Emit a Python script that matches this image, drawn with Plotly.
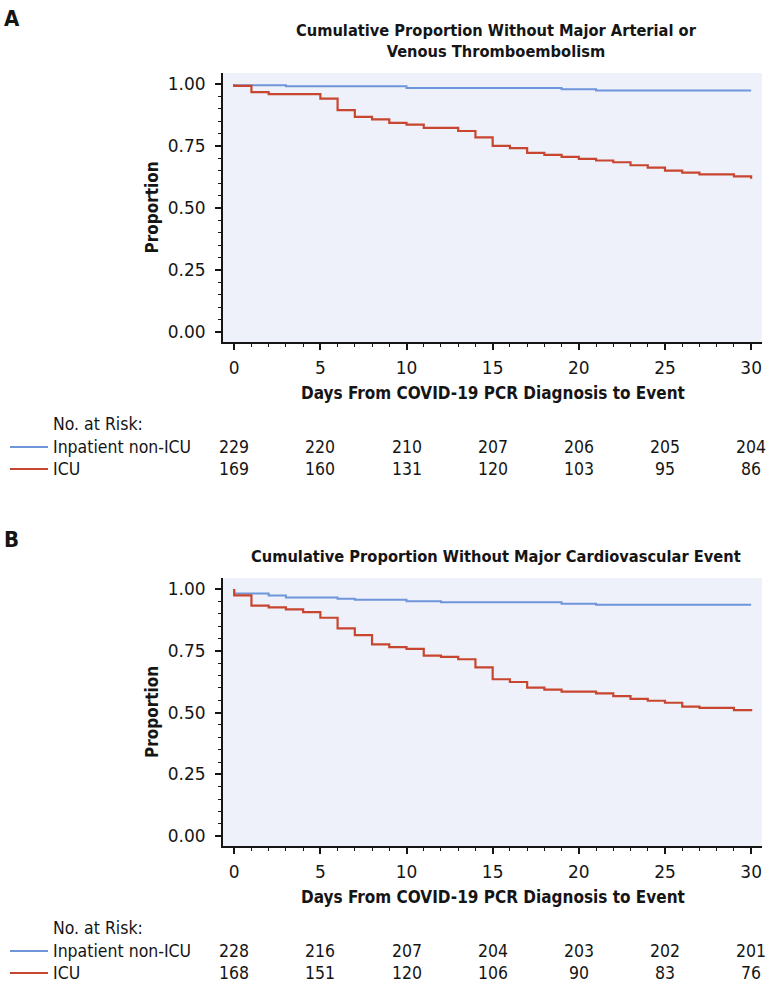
import plotly.graph_objects as go

W, H = 766, 986

# ---------------- data ----------------
tick_days = [0, 5, 10, 15, 20, 25, 30]

# Panel A: major arterial or venous thromboembolism
a_nonicu_days = [0, 0, 3, 10, 19, 21, 30]
a_nonicu_surv = [1.0, 0.996, 0.992, 0.985, 0.979, 0.974, 0.974]
a_icu_days = [0, 0, 1, 2, 5, 6, 7, 8, 9, 10, 11, 13, 14, 15, 16, 17, 18, 19, 20,
              21, 22, 23, 24, 25, 26, 27, 29, 30]
a_icu_surv = [1.0, 0.993, 0.968, 0.960, 0.942, 0.895, 0.868, 0.858, 0.844, 0.837,
              0.824, 0.811, 0.785, 0.751, 0.742, 0.723, 0.715, 0.707, 0.699, 0.692,
              0.685, 0.673, 0.663, 0.651, 0.643, 0.636, 0.628, 0.618]
a_risk_nonicu = [229, 220, 210, 207, 206, 205, 204]
a_risk_icu = [169, 160, 131, 120, 103, 95, 86]

# Panel B: major cardiovascular event
b_nonicu_days = [0, 0, 2, 3, 6, 7, 10, 12, 19, 21, 30]
b_nonicu_surv = [1.0, 0.982, 0.974, 0.966, 0.961, 0.957, 0.951, 0.947, 0.941, 0.937, 0.937]
b_icu_days = [0, 0, 1, 2, 3, 4, 5, 6, 7, 8, 9, 10, 11, 12, 13, 14, 15, 16, 17, 18,
              19, 21, 22, 23, 24, 25, 26, 27, 29, 30]
b_icu_surv = [1.0, 0.975, 0.933, 0.926, 0.918, 0.907, 0.884, 0.841, 0.814, 0.776,
              0.765, 0.758, 0.731, 0.726, 0.716, 0.683, 0.635, 0.624, 0.601, 0.593,
              0.585, 0.578, 0.567, 0.556, 0.548, 0.540, 0.524, 0.519, 0.510, 0.506]
b_risk_nonicu = [228, 216, 207, 204, 203, 202, 201]
b_risk_icu = [168, 151, 120, 106, 90, 83, 76]

group_names = ["Inpatient non-ICU", "ICU"]
titles = ["Cumulative Proportion Without Major Arterial or<br>Venous Thromboembolism",
          "Cumulative Proportion Without Major Cardiovascular Event"]
panel_letters = ["A", "B"]
x_title = "Days From COVID-19 PCR Diagnosis to Event"
y_title = "Proportion"

# ---------------- style ----------------
BLUE = "#6f95da"
RED = "#c8462f"
BG = "#eef1fa"
INK = "#151515"
NARROW = "Liberation Sans Narrow, DejaVu Sans Condensed, Arial Narrow, sans-serif"
REG = "DejaVu Sans, Noto Sans, sans-serif"


def px(x):
    return x / W


def py(y):
    return 1 - y / H


fig = go.Figure()

panels = [
    dict(xa="x", ya="y", top=73, bottom=342,
         nonicu=(a_nonicu_days, a_nonicu_surv), icu=(a_icu_days, a_icu_surv),
         risk=(a_risk_nonicu, a_risk_icu), title_y=30, letter_y=19),
    dict(xa="x2", ya="y2", top=578, bottom=846,
         nonicu=(b_nonicu_days, b_nonicu_surv), icu=(b_icu_days, b_icu_surv),
         risk=(b_risk_nonicu, b_risk_icu), title_y=556, letter_y=539),
]

left, right = 223, 762
annotations = []
shapes = []
for i, p in enumerate(panels):
    fig.add_trace(go.Scatter(x=p["nonicu"][0], y=p["nonicu"][1], mode="lines",
                             line=dict(shape="hv", color=BLUE, width=2),
                             xaxis=p["xa"], yaxis=p["ya"], showlegend=False,
                             name=group_names[0]))
    fig.add_trace(go.Scatter(x=p["icu"][0], y=p["icu"][1], mode="lines",
                             line=dict(shape="hv", color=RED, width=2.2),
                             xaxis=p["xa"], yaxis=p["ya"], showlegend=False,
                             name=group_names[1]))
    xk = "xaxis" if i == 0 else "xaxis2"
    yk = "yaxis" if i == 0 else "yaxis2"
    fig.update_layout({
        xk: dict(domain=[px(left), px(right)], range=[-0.65, 30.63],
                 anchor=p["ya"], showgrid=False, zeroline=False,
                 showline=True, linecolor=INK, linewidth=2,
                 ticks="outside", ticklen=6, tickwidth=1.5, tickcolor=INK,
                 tickvals=tick_days, ticklabelstandoff=4,
                 tickfont=dict(family=REG, size=17, color=INK),
                 minor=dict(dtick=1, tick0=0, ticks="outside", ticklen=3,
                            tickwidth=1.3, tickcolor=INK, showgrid=False)),
        yk: dict(domain=[py(p["bottom"]), py(p["top"])], range=[-0.04, 1.045],
                 anchor=p["xa"], showgrid=False, zeroline=False,
                 showline=True, linecolor=INK, linewidth=2,
                 ticks="outside", ticklen=6, tickwidth=1.5, tickcolor=INK,
                 tickvals=[0, 0.25, 0.5, 0.75, 1.0], tickformat=".2f",
                 ticklabelstandoff=6,
                 tickfont=dict(family=REG, size=17, color=INK),
                 minor=dict(dtick=0.05, tick0=0, ticks="outside", ticklen=3,
                            tickwidth=1.3, tickcolor=INK, showgrid=False)),
    })
    # plot background
    shapes.append(dict(type="rect", xref="paper", yref="paper", layer="below",
                       x0=px(left), x1=px(right), y0=py(p["bottom"]), y1=py(p["top"]),
                       fillcolor=BG, line=dict(width=0)))
    # panel letter
    annotations.append(dict(text="<b>%s</b>" % panel_letters[i], x=px(2), y=py(p["letter_y"]),
                            xref="paper", yref="paper", xanchor="left", yanchor="middle",
                            showarrow=False, font=dict(family=NARROW, size=22, color=INK)))
    # title
    annotations.append(dict(text="<b>%s</b>" % titles[i], x=px(496),
                            y=py(p["title_y"] - 11), xref="paper", yref="paper",
                            xanchor="center", yanchor="top", showarrow=False,
                            font=dict(family=NARROW, size=16.3, color=INK)))
    # axis titles
    annotations.append(dict(text="<b>%s</b>" % x_title, x=px((left + right) / 2),
                            y=py(p["bottom"] + 51), xref="paper", yref="paper",
                            xanchor="center", yanchor="middle", showarrow=False,
                            font=dict(family=NARROW, size=17, color=INK)))
    annotations.append(dict(text="<b>%s</b>" % y_title, x=px(152),
                            y=py((p["top"] + p["bottom"]) / 2), xref="paper", yref="paper",
                            xanchor="center", yanchor="middle", textangle=-90,
                            showarrow=False,
                            font=dict(family=NARROW, size=17, color=INK)))
    # risk table
    base = p["bottom"]
    rows_y = [base + 82, base + 105, base + 127]
    annotations.append(dict(text="No. at Risk:", x=px(51), y=py(rows_y[0]),
                            xref="paper", yref="paper", xanchor="left", yanchor="middle",
                            showarrow=False, font=dict(family=NARROW, size=17.5, color=INK)))
    for r, (gname, col) in enumerate(zip(group_names, [BLUE, RED])):
        yy = rows_y[r + 1]
        shapes.append(dict(type="line", xref="paper", yref="paper",
                           x0=px(10), x1=px(48), y0=py(yy), y1=py(yy),
                           line=dict(color=col, width=2)))
        annotations.append(dict(text=gname, x=px(51), y=py(yy),
                                xref="paper", yref="paper", xanchor="left",
                                yanchor="middle", showarrow=False,
                                font=dict(family=NARROW, size=17.5, color=INK)))
        for d, n in zip(tick_days, p["risk"][r]):
            annotations.append(dict(text=str(n), x=d, xref=p["xa"], y=py(yy),
                                    yref="paper", xanchor="center", yanchor="middle",
                                    showarrow=False,
                                    font=dict(family=NARROW, size=17.5, color=INK)))

fig.update_layout(width=W, height=H, margin=dict(l=0, r=0, t=0, b=0),
                  paper_bgcolor="white", plot_bgcolor="rgba(0,0,0,0)",
                  showlegend=False, annotations=annotations, shapes=shapes)

fig.write_html("out.html", config={"displayModeBar": False},
               post_script="document.body.style.margin='0';"
                           "document.body.style.overflow='hidden';")
